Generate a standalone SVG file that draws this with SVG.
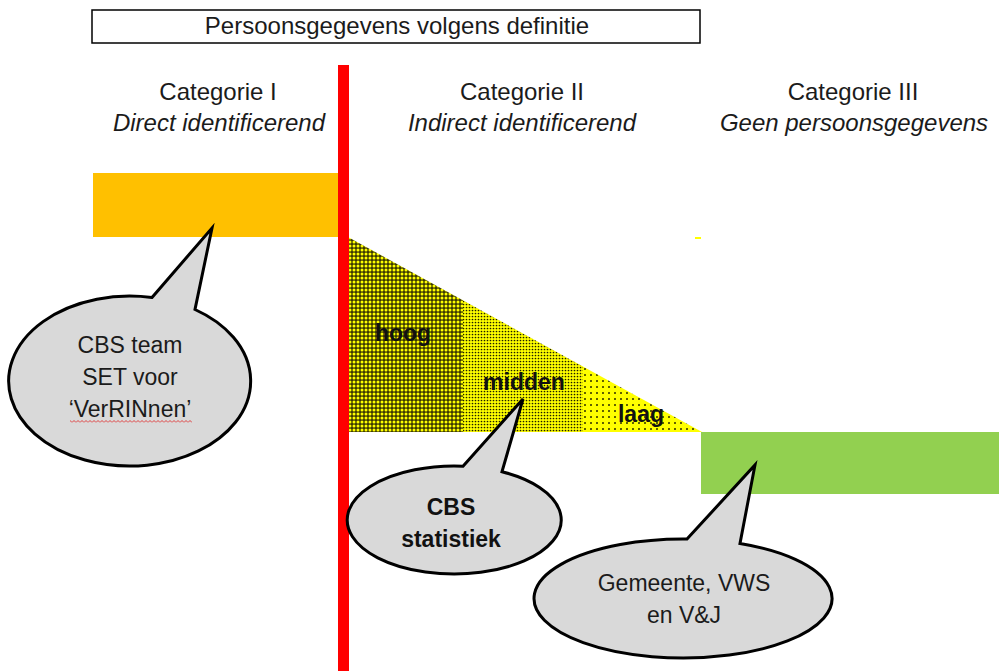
<svg xmlns="http://www.w3.org/2000/svg" width="999" height="671" viewBox="0 0 999 671">
  <style>
    .t { font-family: "Liberation Sans", Arial, sans-serif; fill: #1b1b1b; text-anchor: middle; }
    .hdr { font-size: 24px; }
    .it { font-style: italic; }
    .bub { font-size: 23px; }
    .bold { font-weight: bold; font-size: 23px; fill: #111; }
    .callout { fill: #d9d9d9; stroke: #000; stroke-width: 3; stroke-linejoin: miter; }
  </style>
  <defs>
    <pattern id="pHoog" width="4" height="4" patternUnits="userSpaceOnUse">
      <rect width="4" height="4" fill="#3c3a00"/>
      <circle cx="2" cy="2" r="1.5" fill="#ffff00"/>
    </pattern>
    <pattern id="pMidden" width="3" height="3" patternUnits="userSpaceOnUse">
      <rect width="3" height="3" fill="#ffff00"/>
      <circle cx="1.5" cy="1.5" r="0.85" fill="#1e1e00"/>
    </pattern>
    <pattern id="pLaag" width="6" height="6" patternUnits="userSpaceOnUse">
      <rect width="6" height="6" fill="#ffff00"/>
      <circle cx="3" cy="3" r="0.95" fill="#1e1e00"/>
    </pattern>
    <pattern id="wavy" width="4" height="3" patternUnits="userSpaceOnUse">
      <polyline points="0,2.5 2,0.5 4,2.5" fill="none" stroke="#e03030" stroke-width="0.9"/>
    </pattern>
    <clipPath id="triClip">
      <polygon points="348,237 702,432 348,432"/>
    </clipPath>
  </defs>

  <rect width="999" height="671" fill="#ffffff"/>

  <g id="title">
    <rect x="92" y="10" width="608" height="33" fill="#ffffff" stroke="#000" stroke-width="1.5"/>
    <text class="t hdr" x="397" y="34">Persoonsgegevens volgens definitie</text>
  </g>

  <g id="cat1-header">
    <text class="t hdr" x="218" y="100">Categorie I</text>
    <text class="t hdr it" x="219" y="131">Direct identificerend</text>
  </g>
  <g id="cat2-header">
    <text class="t hdr" x="522" y="100">Categorie II</text>
    <text class="t hdr it" x="522" y="131">Indirect identificerend</text>
  </g>
  <g id="cat3-header">
    <text class="t hdr" x="853" y="100">Categorie III</text>
    <text class="t hdr it" x="854" y="131">Geen persoonsgegevens</text>
  </g>

  <g id="cat1-bar">
    <rect x="93" y="173" width="246" height="64" fill="#ffc000"/>
  </g>

  <g id="cat2-triangle">
    <g clip-path="url(#triClip)">
      <rect x="348" y="237" width="115" height="195" fill="url(#pHoog)"/>
      <rect x="463" y="237" width="120" height="195" fill="url(#pMidden)"/>
      <rect x="583" y="237" width="119" height="195" fill="url(#pLaag)"/>
    </g>
    <rect x="695" y="237" width="6" height="2" fill="#ffff00"/>
    <text class="t bold" x="403" y="341">hoog</text>
    <text class="t bold" x="524" y="390">midden</text>
    <text class="t bold" x="641" y="422">laag</text>
  </g>

  <g id="cat3-bar">
    <rect x="701" y="432" width="298" height="62" fill="#92d050"/>
  </g>

  <g id="divider">
    <rect x="338" y="65" width="11" height="606" fill="#ff0000"/>
  </g>

  <g id="callout-cbs-team">
    <path class="callout" d="M152,297.5 L212,228 L195,309.5 A121,85 0 1 1 152,297.5 Z"/>
    <text class="t bub" x="130" y="353">CBS team</text>
    <text class="t bub" x="130" y="385">SET voor</text>
    <text class="t bub" x="130" y="417">‘VerRINnen’</text>
    <rect x="70" y="420" width="122" height="3" fill="url(#wavy)"/>
  </g>

  <g id="callout-cbs-statistiek">
    <path class="callout" d="M463,466.2 L523,399 L502,471.7 A107,54 0 1 1 463,466.2 Z"/>
    <text class="t bold" x="451" y="515">CBS</text>
    <text class="t bold" x="451" y="547">statistiek</text>
  </g>

  <g id="callout-gemeente">
    <path class="callout" d="M687,539 L755,465 L740,543.5 A149,59.5 0 1 1 687,539 Z"/>
    <text class="t bub" x="684" y="591">Gemeente, VWS</text>
    <text class="t bub" x="684" y="623">en V&amp;J</text>
  </g>
</svg>
